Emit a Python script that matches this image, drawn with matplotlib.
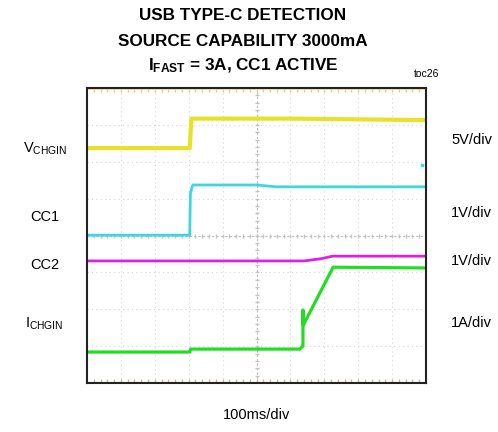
import matplotlib
matplotlib.use("Agg")
import matplotlib.pyplot as plt
import numpy as np

plt.rcParams['font.family'] = ['Liberation Sans', 'DejaVu Sans']
plt.rcParams['mathtext.fontset'] = 'custom'
plt.rcParams['mathtext.rm'] = 'Liberation Sans'
plt.rcParams['mathtext.bf'] = 'Liberation Sans:bold'

# ---- data (time in ms, level in screen divisions) ----
vchgin_t = [0, 303, 308, 600, 1000]
vchgin_v = [6.37, 6.37, 7.17, 7.17, 7.13]

cc1_t = [0, 303, 305, 312, 500, 560, 1000]
cc1_v = [4.01, 4.01, 5.15, 5.37, 5.37, 5.32, 5.32]

cc2_t = [0, 640, 690, 725, 1000]
cc2_v = [3.31, 3.31, 3.37, 3.44, 3.44]

ichgin_t = [0, 303, 306, 628, 636, 637, 637, 638, 726, 1000]
ichgin_v = [0.84, 0.84, 0.92, 0.92, 1.0, 1.0, 1.98, 1.57, 3.14, 3.12]

left_labels = [r'$\mathrm{V_{CHGIN}}$', 'CC1', 'CC2', r'$\mathrm{I_{CHGIN}}$']
left_label_y = [6.35, 4.5, 3.2, 1.6]
right_labels = ['5V/div', '1V/div', '1V/div', '1A/div']
right_label_y = [6.6, 4.6, 3.3, 1.63]

fig = plt.figure(figsize=(4.98, 4.32), dpi=100)
ax = fig.add_axes([87/498, 49/432, 339/498, 295/432])
ax.set_xlim(0, 1000)
ax.set_ylim(0, 8)
ax.set_xticks([])
ax.set_yticks([])
for s in ax.spines.values():
    s.set_color('#222222')
    s.set_linewidth(1.5)

# grid
gcol = '#d6d6d6'
for gx in range(100, 1000, 100):
    ax.axvline(gx, color=gcol, lw=0.8, ls=(0, (1, 3)), zorder=0)
for gy in range(1, 8):
    ax.axhline(gy, color=gcol, lw=0.8, ls=(0, (1, 3)), zorder=0)
ax.axvline(500, color='#bdbdbd', lw=0.8, ls=(0, (2, 2)), zorder=0)
ax.axhline(4, color='#bdbdbd', lw=0.8, ls=(0, (2, 2)), zorder=0)
# minor ticks along center lines and edges
mx = np.arange(20, 1000, 20)
my = np.arange(0.2, 8, 0.2)
ax.plot(mx, np.full_like(mx, 4.0, dtype=float), '|', color='#c4c4c4', ms=2.5, zorder=0)
ax.plot(np.full_like(my, 500.0), my, '_', color='#c4c4c4', ms=2.5, zorder=0)
ax.plot(mx, np.full_like(mx, 7.97, dtype=float), '|', color='#e8c890', ms=4, zorder=0)
ax.plot(mx, np.full_like(mx, 0.03, dtype=float), '|', color='#c8b898', ms=4, zorder=0)
ax.axhline(7.99, color='#f2dcb0', lw=2, zorder=0)

ax.plot(vchgin_t, vchgin_v, color='#e6e22a', lw=3)
ax.plot(cc1_t, cc1_v, color='#3fd6e2', lw=2)
ax.plot(cc2_t, cc2_v, color='#e020e0', lw=2)
ax.plot(ichgin_t, ichgin_v, color='#22dd22', lw=2.3)
ax.plot([988], [5.91], 's', color='#3fd6e2', ms=2)

for lab, y in zip(left_labels, left_label_y):
    ax.text(-0.125, y / 8, lab, transform=ax.transAxes, ha='center', va='center',
            fontsize=10.5)
for lab, y in zip(right_labels, right_label_y):
    ax.text(1.135, y / 8, lab, transform=ax.transAxes, ha='center', va='center',
            fontsize=10.5)

ax.text(0.5, -0.11, '100ms/div', transform=ax.transAxes, ha='center', va='center',
        fontsize=10.5)

tfont = dict(family=['Liberation Sans Narrow', 'Liberation Sans'], weight='bold',
             fontsize=12.3)
fig.text(243/498, 1 - 15/432, 'USB TYPE-C DETECTION', ha='center', va='center', **tfont)
fig.text(243/498, 1 - 41/432, 'SOURCE CAPABILITY 3000mA', ha='center', va='center', **tfont)
fig.text(243/498, 1 - 66/432, r'$\mathbf{I_{FAST}}$ = 3A, CC1 ACTIVE', ha='center',
         va='center', **tfont)
fig.text(427/498, 1 - 74/432, 'toc26', ha='center', va='center', fontsize=7.5)

fig.savefig('out.png', dpi=100)
